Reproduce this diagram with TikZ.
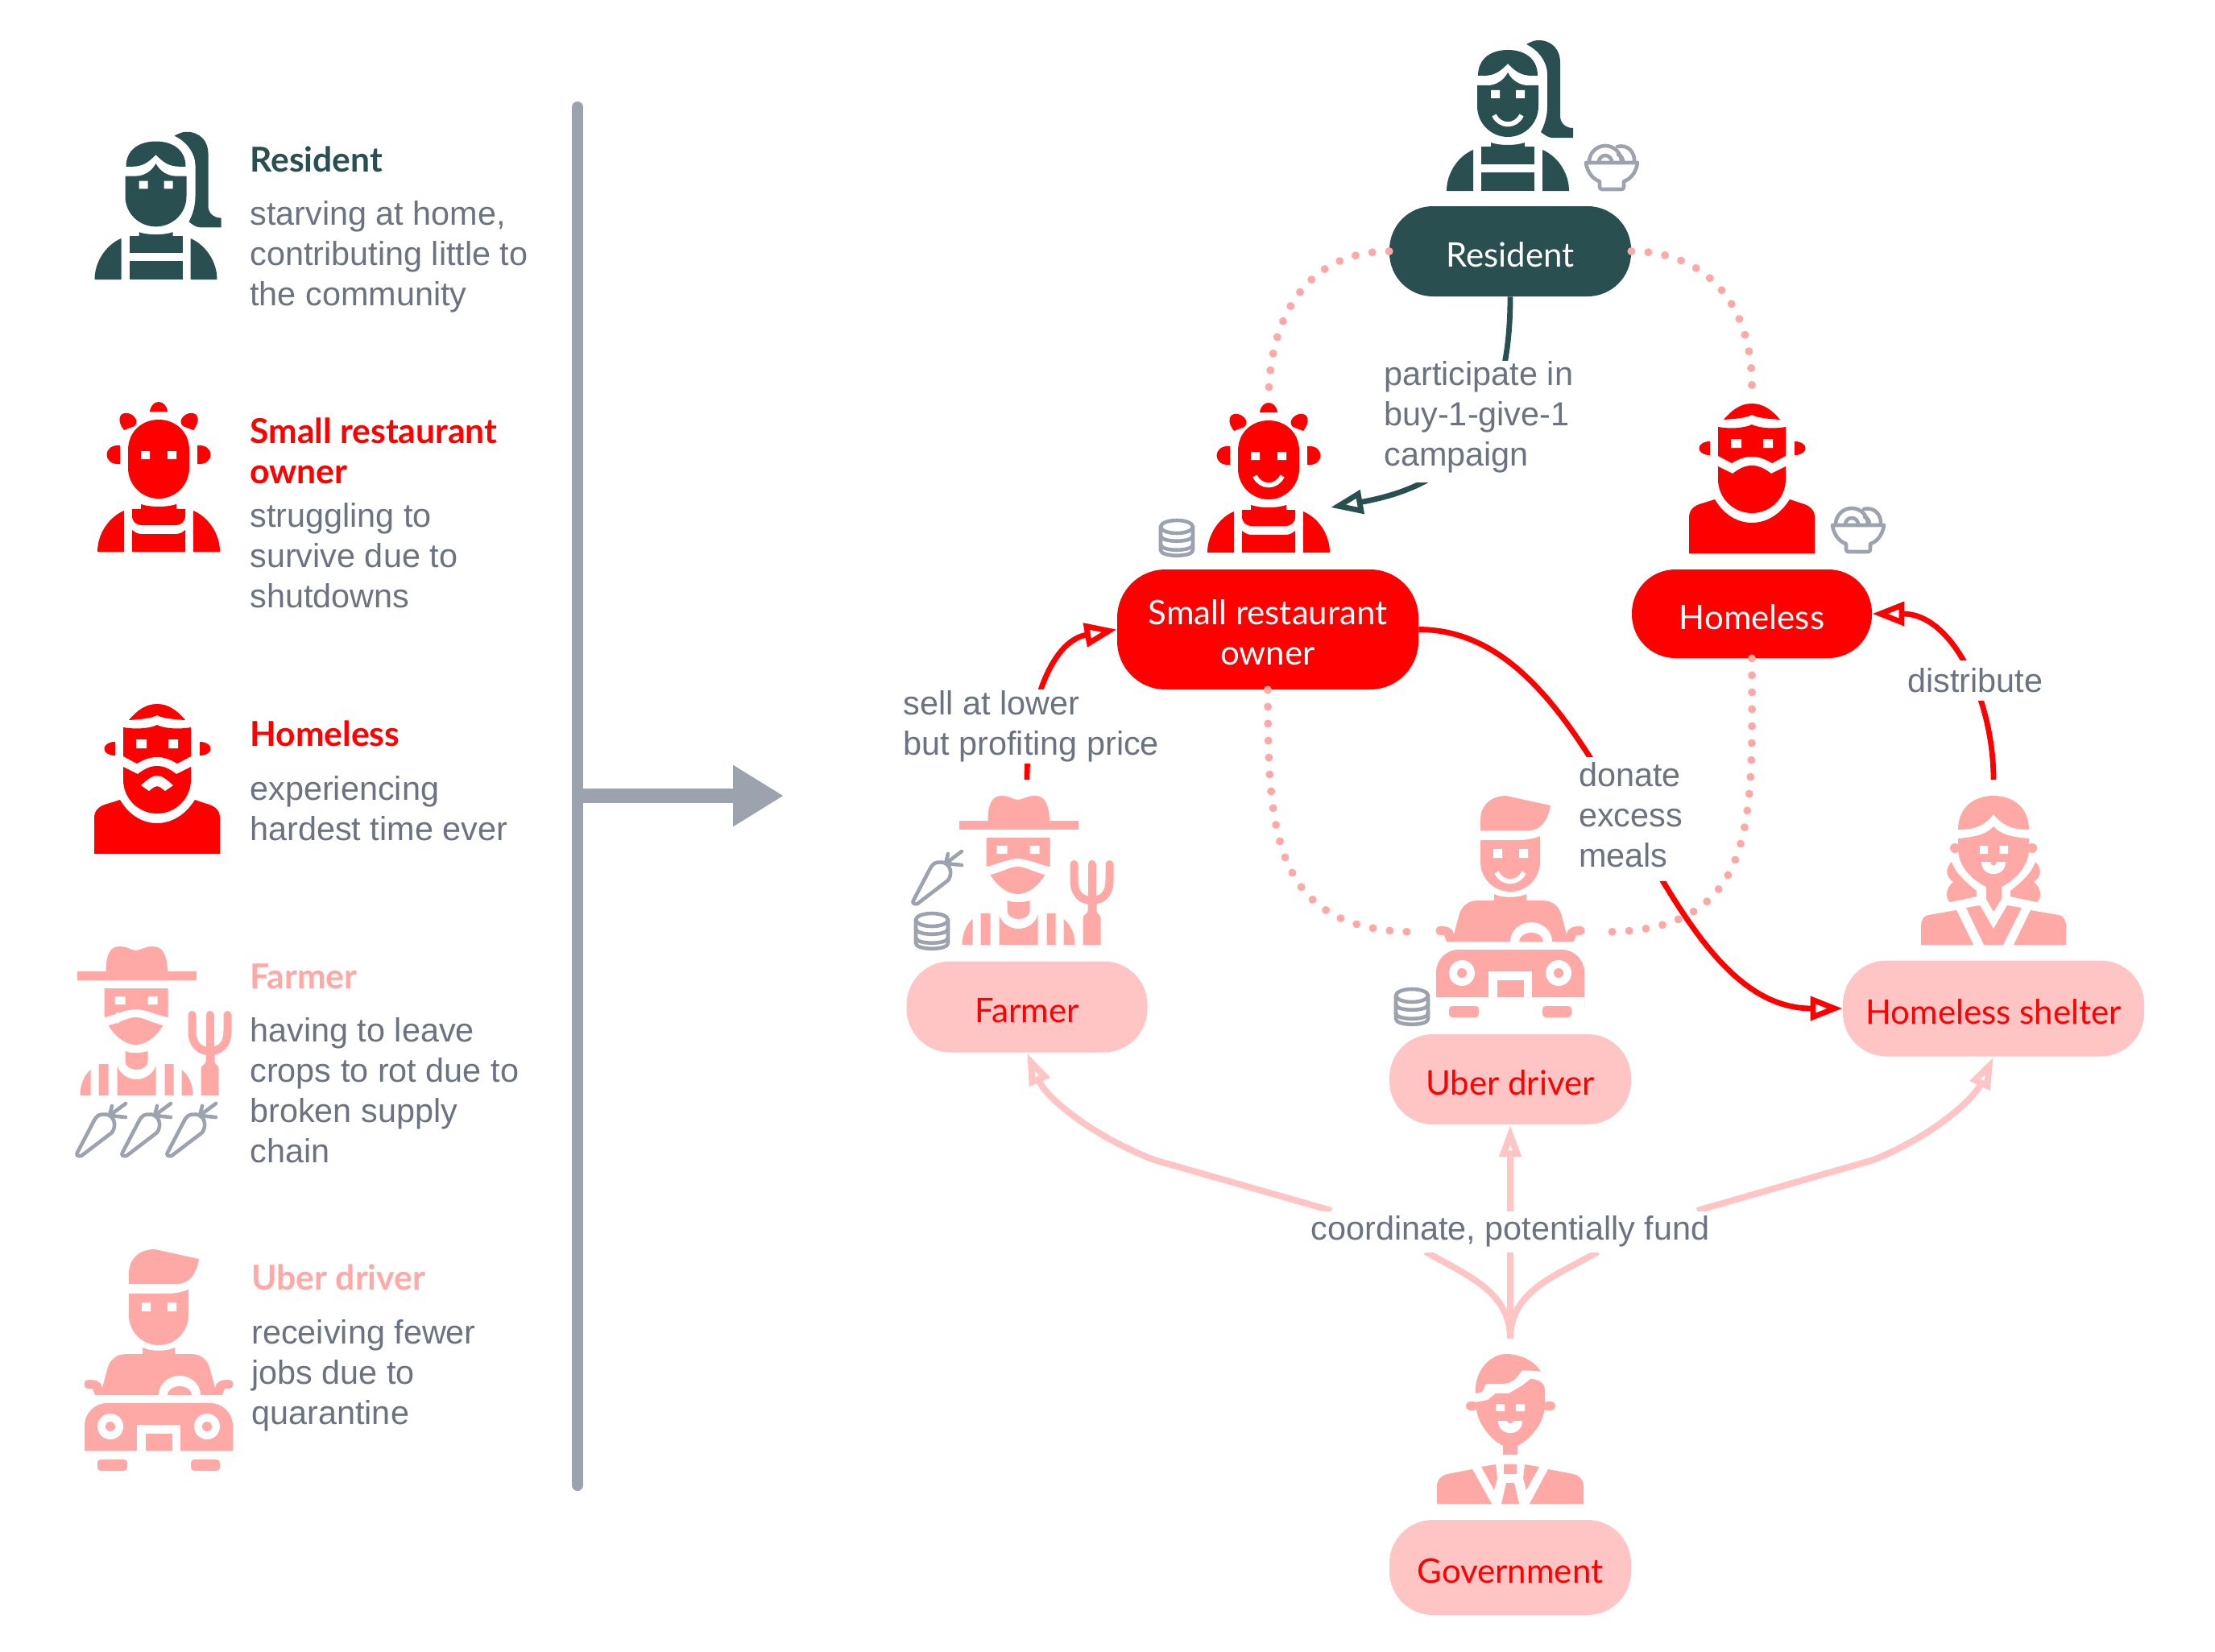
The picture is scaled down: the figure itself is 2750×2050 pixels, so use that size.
\documentclass[tikz,border=0pt]{standalone}
\usepackage{fontspec}
\setmainfont{Liberation Sans}
\newfontfamily\latofont{Lato}
\usetikzlibrary{arrows.meta, calc}

\definecolor{tealdark}{HTML}{2A4F50}
\definecolor{pinkicon}{HTML}{FFA9A7}
\definecolor{pinkbox}{HTML}{FFC5C5}
\definecolor{greytext}{HTML}{6B7280}
\definecolor{greyicon}{HTML}{9CA3AF}

\tikzset{
  pill/.style={rectangle, rounded corners=27pt, inner sep=0pt, align=center,
    text height=19pt, text depth=0pt,
    font=\latofont\fontsize{21}{25}\selectfont},
  headtext/.style={anchor=base west, inner sep=0pt, align=left,
    font=\latofont\bfseries\fontsize{21.3}{25}\selectfont},
  desctext/.style={anchor=base west, inner sep=0pt, align=left, text=greytext,
    font=\fontsize{20.7}{25}\selectfont},
  edgelabel/.style={fill=white, inner sep=0pt, align=left, text=greytext,
    font=\fontsize{20.7}{25}\selectfont},
  dotline/.style={pinkicon, line width=5pt, line cap=round, dash pattern=on 0.01pt off 10.5pt},
  flowline/.style={line width=3.4pt, -{Triangle[open, length=20pt, width=14.5pt]}},
  fundline/.style={pinkbox, line width=4pt, -{Triangle[open, length=20pt, width=13pt]}},
  thing/.style={greyicon, line width=2.3pt, line join=round, line cap=round},
  % people
  pics/residentfig/.style={code={
    \fill[#1] (-37,143) .. controls (-37,165) and (-20,175) .. (0,175) .. controls (20,175) and (37,165) .. (37,143)
      -- (30,143) .. controls (15,143) and (8,150) .. (0,158) .. controls (-8,150) and (-15,143) .. (-30,143) -- cycle;
    \fill[#1] (-38,131) -- (-25,131) .. controls (-15,131) and (-5,137) .. (0,147) .. controls (5,137) and (15,131) .. (25,131)
      -- (38,131) -- (38,105) arc[start angle=0, end angle=-180, radius=38] -- cycle;
    \fill[#1] (23,182) .. controls (30,186) and (34,187) .. (38,187) .. controls (55,187) and (65,175) .. (65,160)
      -- (65,93) .. controls (65,84) and (72,78) .. (81,78) -- (81,66) -- (55,66) .. controls (50,66) and (45,70) .. (41,73)
      .. controls (47,85) and (49,95) .. (49,105) -- (49,145) .. controls (49,160) and (38,175) .. (23,182) -- cycle;
    \fill[white] (-21,115) rectangle (-10,125) (10,115) rectangle (21,125);
    \fill[#1] (-33,33.5) rectangle (33,55);
    \fill[#1] (-21,54) -- (-21,60) .. controls (-10,56) and (10,56) .. (21,60) -- (21,54) -- cycle;
    \fill[#1] (-33,0) rectangle (33,23);
    \pic {shoulders=#1};
  }},
  pics/shoulders/.style={code={
    \fill[#1] (-76,0) .. controls (-76,22) and (-62,43) .. (-43,51) -- (-43,0) -- cycle;
    \fill[#1] (76,0) .. controls (76,22) and (62,43) .. (43,51) -- (43,0) -- cycle;
  }},
  pics/ownerfig/.style={code={
    \fill[#1] (-38,126) .. controls (-38,150) and (-20,164) .. (0,164) .. controls (20,164) and (38,150) .. (38,126)
      -- (38,104) arc[start angle=0, end angle=-180, radius=38] -- cycle;
    \fill[white] (-22,115) rectangle (-11,125) (11,115) rectangle (22,125);
    \fill[#1] (-11,174) .. controls (-9,190) and (9,190) .. (11,174) -- cycle;
    \fill[#1] (-30,156) .. controls (-24,162) and (-30,170) .. (-38,172) .. controls (-50,174) and (-52,162) .. (-43,151) -- cycle;
    \fill[#1] (30,156) .. controls (24,162) and (30,170) .. (38,172) .. controls (50,174) and (52,162) .. (43,151) -- cycle;
    \fill[#1] (-48,132) .. controls (-70,134) and (-70,107) .. (-48,109) -- cycle;
    \fill[#1] (48,132) .. controls (70,134) and (70,107) .. (48,109) -- cycle;
    \fill[#1] (-33,53) -- (-33,45) .. controls (-33,37) and (-28,33) .. (-20,33) -- (20,33) .. controls (28,33) and (33,37) .. (33,45)
      -- (33,53) -- (22,53) -- (22,59) .. controls (10,55) and (-10,55) .. (-22,59) -- (-22,53) -- cycle;
    \fill[#1] (-33,0) -- (33,0) -- (33,27) .. controls (28,23) and (25,22) .. (20,22) -- (-20,22) .. controls (-25,22) and (-28,23) .. (-33,27) -- cycle;
    \pic {shoulders=#1};
  }},
  pics/homelessfig/.style={code={
    \fill[#1] (-35,166) .. controls (-25,178) and (-14,186) .. (0,186) .. controls (14,186) and (25,178) .. (35,166)
      .. controls (20,167) and (8,168) .. (0,172) .. controls (-8,168) and (-20,167) .. (-35,166) -- cycle;
    \fill[#1] (-42,157) .. controls (-25,154) and (-8,156) .. (0,160) .. controls (8,156) and (25,154) .. (42,157) -- (42,121) -- (25,112)
      .. controls (15,118) and (8,120) .. (0,120) .. controls (-8,120) and (-15,118) .. (-25,112) -- (-42,121) -- cycle;
    \fill[white] (-26,131) rectangle (-13,142) (14,131) rectangle (26,142);
    \fill[#1] (-42,108) -- (-24,99) .. controls (-15,106) and (-8,109) .. (0,109) .. controls (8,109) and (15,106) .. (24,99) -- (42,108)
      -- (42,92) arc[start angle=0, end angle=-180, radius=42] -- cycle;
    \fill[#1] (-52,139) .. controls (-70,139) and (-70,122) .. (-52,122) -- cycle;
    \fill[#1] (53,139) .. controls (71,139) and (71,122) .. (53,122) -- cycle;
    \fill[#1] (-78,0) -- (-78,45) .. controls (-78,55) and (-70,60) .. (-62,62) -- (-46,67) .. controls (-35,48) and (-18,38) .. (0,38)
      .. controls (18,38) and (35,48) .. (47,67) -- (62,62) .. controls (70,60) and (78,55) .. (78,45) -- (78,0) -- cycle;
  }},
  pics/farmerfig/.style={code={
    \fill[#1] (-73,143) rectangle (75,154);
    \fill[#1] (-37,153) .. controls (-37,175) and (-32,185) .. (-20,185) .. controls (-10,185) and (-5,180) .. (0,180)
      .. controls (5,180) and (12,185) .. (20,185) .. controls (35,185) and (38,175) .. (40,153) -- cycle;
    \fill[#1] (-39,133) -- (40,133) -- (40,97) .. controls (25,100) and (12,107) .. (0,107) .. controls (-12,107) and (-25,100) .. (-39,97) -- cycle;
    \fill[white] (-26,113) rectangle (-13,123) (15,113) rectangle (27,123);
    \fill[#1] (-34,87) .. controls (-20,90) and (-10,97) .. (0,97) .. controls (10,97) and (20,90) .. (34,87) .. controls (25,72) and (12,63) .. (0,63) .. controls (-12,63) and (-25,72) .. (-34,87) -- cycle;
    \fill[#1] (-13,55) .. controls (-5,52) and (5,52) .. (15,55) -- (15,42) .. controls (15,36) and (8,32) .. (1,32) .. controls (-6,32) and (-13,36) .. (-13,42) -- cycle;
    \fill[#1] (-23,37) .. controls (-20,27) and (-10,20) .. (1,20) .. controls (12,20) and (22,27) .. (25,37) -- (25,0) -- (-23,0) -- cycle;
    \fill[#1] (-46,0) rectangle (-34,39) (36,0) rectangle (47,39);
    \fill[#1] (-69,0) .. controls (-69,15) and (-63,26) .. (-56,32) -- (-56,0) -- cycle;
    \fill[#1] (71,0) .. controls (71,15) and (65,26) .. (57,32) -- (57,0) -- cycle;
    \fill[#1] (81,0) -- (81,33) .. controls (81,38) and (87,38) .. (87,42) -- (87,56) -- (98,56) -- (98,42) .. controls (98,38) and (103,38) .. (103,33) -- (103,0) -- cycle;
    \draw[#1, line width=5pt, line cap=round] (70,100) -- (70,80) .. controls (70,62) and (80,55) .. (92,55) .. controls (104,55) and (114,62) .. (114,80) -- (114,100);
    \draw[#1, line width=5pt, line cap=round] (92,100) -- (92,55);
  }},
  pics/driverfig/.style={code={
    \fill[#1] (-37,232) -- (-37,245) .. controls (-37,265) and (-22,275) .. (-5,275) -- (50,263) .. controls (47,245) and (38,232) .. (23,232) -- cycle;
    \fill[#1] (-37,220) -- (10,220) .. controls (20,220) and (30,222) .. (37,225) -- (37,193) arc[start angle=0, end angle=-180, radius=37] -- cycle;
    \fill[white] (-21,198) rectangle (-10,209) (11,198) rectangle (22,209);
    \fill[#1] (-20,153) .. controls (-10,148) and (10,148) .. (20,153) -- (20,145) -- (40,145) .. controls (55,145) and (62,135) .. (64,125)
      -- (70,103) .. controls (72,112) and (78,113) .. (88,113) .. controls (94,113) and (94,102) .. (88,102) -- (82,102) -- (79,94)
      -- (-79,94) -- (-82,102) -- (-88,102) .. controls (-94,102) and (-94,113) .. (-88,113) .. controls (-78,113) and (-72,112) .. (-70,103)
      -- (-64,125) .. controls (-62,135) and (-55,145) .. (-40,145) -- (-20,145) -- cycle;
    \fill[white] (0,94) arc[start angle=180, end angle=0, x radius=26, y radius=24] -- cycle;
    \fill[#1] (11,94) arc[start angle=180, end angle=0, x radius=15, y radius=11] -- cycle;
    \fill[#1, rounded corners=14pt] (-92,40) -- (-92,84) -- (92,84) -- (92,40) [sharp corners] -- (92,25) -- (-92,25) -- (-92,40);
    \fill[white] (-60,55) ellipse (16 and 16) (60,55) ellipse (16 and 16);
    \fill[#1] (-60,55) circle (6) (60,55) circle (6);
    \fill[white] (-27,25) rectangle (27,57);
    \fill[#1] (-16,25) rectangle (17,46);
    \fill[#1, rounded corners=2pt] (-76,0) rectangle (-39,14) (40,0) rectangle (76,14);
  }},
  pics/shelterfig/.style={code={
    \fill[#1] (-44,143) .. controls (-44,170) and (-25,185) .. (0,185) .. controls (25,185) and (44,170) .. (44,143)
      .. controls (20,143) and (10,150) .. (0,162) .. controls (-10,150) and (-20,143) .. (-44,143) -- cycle;
    \fill[#1] (-44,132) .. controls (-20,134) and (-8,138) .. (0,147) .. controls (8,138) and (20,134) .. (44,132) -- (44,118)
      .. controls (43,95) and (25,80) .. (10,72) -- (10,57) -- (0,41) -- (-9,57) -- (-9,72) .. controls (-25,80) and (-43,95) .. (-44,118) -- cycle;
    \fill[#1] (-48,120) circle (6) (48,120) circle (6);
    \fill[white] (-17,113) rectangle (-7,123) (7.5,113) rectangle (18,123);
    \fill[white] (-15,103) -- (15,103) .. controls (15,93) and (8,88) .. (0,88) .. controls (-8,88) and (-15,93) .. (-15,103) -- cycle;
    \fill[#1] (-4,103) .. controls (-3,97) and (3,97) .. (4,103) -- cycle;
    \fill[#1] (-52,103) .. controls (-60,95) and (-60,85) .. (-50,78) .. controls (-60,70) and (-60,58) .. (-54,53) -- (-21,60) -- (-21,67) .. controls (-35,78) and (-48,90) .. (-52,103) -- cycle;
    \fill[#1] (52,103) .. controls (60,95) and (60,85) .. (50,78) .. controls (60,70) and (60,58) .. (54,53) -- (21,60) -- (21,67) .. controls (35,78) and (48,90) .. (52,103) -- cycle;
    \fill[#1] (-90,0) -- (-90,23) .. controls (-90,32) and (-86,36) .. (-81,37) -- (-46,43) -- (-25,0) -- cycle;
    \fill[#1] (90,0) -- (90,23) .. controls (90,32) and (86,36) .. (81,37) -- (46,43) -- (25,0) -- cycle;
    \fill[#1] (-34,46) -- (-17,49) -- (0,20) -- (17,49) -- (35,46) -- (12,0) -- (-12,0) -- cycle;
  }},
  pics/officialfig/.style={code={
    \fill[#1] (-43,137) .. controls (-45,165) and (-25,186) .. (-5,186) .. controls (12,186) and (30,178) .. (38,164)
      .. controls (30,166) and (20,165) .. (15,166) .. controls (10,160) and (5,149) .. (-10,149) -- (-30,149) -- (-35,139) -- cycle;
    \fill[#1] (-43,126) -- (-28,129) -- (-18,137) -- (-2,137) -- (15,147) -- (25,155) .. controls (35,155) and (43,150) .. (43,141)
      -- (43,121) .. controls (42,100) and (25,80) .. (9,72) -- (9,61) -- (-9,61) -- (-9,72) .. controls (-25,80) and (-40,100) .. (-42,117) -- cycle;
    \fill[#1, rounded corners=2.5pt] (-55,116) rectangle (-40,127) (40,116) rectangle (56,127);
    \fill[white] (-18,115) rectangle (-7,124) (7,115) rectangle (18,124);
    \fill[white] (-15,103) -- (15,103) .. controls (15,93) and (8,88) .. (0,88) .. controls (-8,88) and (-15,93) .. (-15,103) -- cycle;
    \fill[#1] (-4,103) .. controls (-3,99) and (3,99) .. (4,103) -- cycle;
    \fill[#1] (-91,0) -- (-91,21) .. controls (-91,30) and (-86,35) .. (-78,37) -- (-47,43) -- (-23,0) -- cycle;
    \fill[#1] (91,0) -- (91,21) .. controls (91,30) and (86,35) .. (78,37) -- (47,43) -- (24,0) -- cycle;
    \fill[#1] (-36,46) -- (-18,49) -- (-16,32) -- (-20,17) -- cycle;
    \fill[#1] (36,46) -- (18,49) -- (16,32) -- (20,17) -- cycle;
    \fill[#1] (-8,37) rectangle (8,49);
    \fill[#1] (-5,26) -- (5,26) -- (11,0) -- (-11,0) -- cycle;
  }},
  % small marks on the faces
  pics/smile/.style={code={
    \draw[white, line width=3pt] (-17,6) .. controls (-10,-9) and (10,-9) .. (17,6);
  }},
  pics/frown/.style={code={
    \fill[white] (-20,85) .. controls (-10,94) and (-5,97) .. (0,97) .. controls (5,97) and (10,94) .. (20,85) -- (10,78) .. controls (5,82) and (3,84) .. (0,84) .. controls (-3,84) and (-5,82) .. (-10,78) -- cycle;
  }},
  pics/tear/.style={code={
    \fill[white] (0,0) circle (3.5);
    \fill[white] (-1.5,0) rectangle (1.5,10);
  }},
  % things
  pics/bowlfig/.style={code={
    \draw[thing] (-32,35) -- (32,35) .. controls (30,20) and (20,13) .. (15,12) -- (15,5) .. controls (15,3) and (14,2) .. (12,2) -- (-12,2)
      .. controls (-14,2) and (-15,3) .. (-15,5) -- (-15,12) .. controls (-20,13) and (-30,20) .. (-32,35) -- cycle;
    \draw[thing] (-28,36) arc[start angle=180, end angle=0, radius=20];
    \draw[thing] (-16,36) arc[start angle=180, end angle=0, radius=8];
    \draw[thing] (7,55) .. controls (20,58) and (29,48) .. (28,36);
    \draw[thing] (8,45) .. controls (12,44) and (14,40) .. (14,36);
  }},
  pics/coinsfig/.style={code={
    \draw[thing] (0,37) ellipse (20 and 8);
    \draw[thing] (-20,37) -- (-20,8) .. controls (-20,-1) and (20,-1) .. (20,8) -- (20,37);
    \draw[thing] (-20,26) .. controls (-20,17) and (20,17) .. (20,26);
    \draw[thing] (-20,15) .. controls (-20,6) and (20,6) .. (20,15);
  }},
  pics/carrotfig/.style={code={
    \draw[thing] (0,2) -- (22,44) .. controls (25,50) and (35,51) .. (40,48) .. controls (47,44) and (48,34) .. (43,27)
      -- (5,-2) .. controls (1,-3) and (-2,-1) .. (0,2) -- cycle;
    \draw[thing] (40,48) -- (43,60) (40,48) -- (60,63) (40,48) -- (60,46);
  }},
}

\begin{document}
\begin{tikzpicture}[x=0.5pt, y=0.5pt]
    \useasboundingbox (0,0) rectangle (2750,-2050);

    % left column
    \pic [yscale=.98] at (193.5,-347) {residentfig=tealdark};
    \pic at (197,-685) {ownerfig=red};
    \pic at (195,-1060) {homelessfig=red};
    \pic at (195,-1060) {frown};
    \pic at (168.5,-1360) {farmerfig=pinkicon};
    \pic at (145.5,-1267) {tear};
    \foreach \cx in {96,152,208} {
        \pic at (\cx,-1433) {carrotfig};
    }
    \pic at (197,-1826) {driverfig=pinkicon};

    \node (resident head) [headtext, text=tealdark] at (310,-213) {Resident};
    \node (resident desc) [desctext] at (310,-379) {starving at home,\\contributing little to\\the community};
    \node (owner head) [headtext, text=red] at (310,-600) {Small restaurant\\owner};
    \node (owner desc) [desctext] at (310,-754) {struggling to\\survive due to\\shutdowns};
    \node (homeless head) [headtext, text=red] at (310,-926) {Homeless};
    \node (homeless desc) [desctext] at (310,-1043) {experiencing\\hardest time ever};
    \node (farmer head) [headtext, text=pinkicon] at (310,-1227) {Farmer};
    \node (farmer desc) [desctext] at (310,-1443) {having to leave\\crops to rot due to\\broken supply\\chain};
    \node (driver head) [headtext, text=pinkicon] at (312,-1601) {Uber driver};
    \node (driver desc) [desctext] at (312,-1768) {receiving fewer\\jobs due to\\quarantine};

    % divider and big arrow
    \coordinate (bar top) at (717,-133);
    \coordinate (bar bottom) at (717,-1844);
    \coordinate (big start) at (724,-988);
    \coordinate (big end) at (973,-988);
    \draw [greyicon, line width=7pt, line cap=round] (bar top) -- (bar bottom);
    \draw [greyicon, line width=9pt, -{Triangle[length=31.5pt, width=36pt]}] (big start) -- (big end);

    % right part, boxes
    \node (resident) [pill, fill=tealdark, text=white, minimum width=150pt, minimum height=56pt] at (1875,-312) {Resident};
    \node (owner) [pill, rounded corners=30pt, fill=red, text=white, text height=44pt, text depth=0pt, minimum width=187pt, minimum height=74.5pt] at (1574,-781.5) {Small restaurant\\owner};
    \node (homeless) [pill, fill=red, text=white, minimum width=149pt, minimum height=55pt] at (2175,-762) {Homeless};
    \node (farmer) [pill, fill=pinkbox, text=red, minimum width=149.5pt, minimum height=56.5pt] at (1275,-1250) {Farmer};
    \node (driver) [pill, fill=pinkbox, text=red, minimum width=150pt, minimum height=56pt] at (1875,-1340) {Uber driver};
    \node (shelter) [pill, fill=pinkbox, text=red, minimum width=187pt, minimum height=59.5pt] at (2475,-1252) {Homeless shelter};
    \node (government) [pill, fill=pinkbox, text=red, minimum width=150pt, minimum height=59pt] at (1875,-1946) {Government};

    % free ends of the connectors, at the edges of the figures
    \coordinate (owner top) at (1575,-497);
    \coordinate (homeless top) at (2175,-478);
    \coordinate (driver left) at (1760,-1157);
    \coordinate (driver right) at (1991,-1157);
    \coordinate (owner fig) at (1652,-630);
    \coordinate (farmer top) at (1275,-968);
    \coordinate (shelter top) at (2475,-968);
    \coordinate (government top) at (1875,-1662);

    \path [dotline]
    (resident.west) edge[out=180, in=90, looseness=1.1] (owner top)
    (resident.east) edge[out=0, in=90, looseness=1.1] (homeless top)
    (owner.south) edge[out=270, in=180, looseness=1.3] (driver left)
    (homeless.south) edge[out=270, in=0, looseness=1.3] (driver right);

    % right part, figures
    \pic at (1872,-237) {residentfig=tealdark};
    \pic at (1872,-149) {smile};
    \pic at (2001,-237) {bowlfig};
    \pic at (1575,-686) {ownerfig=red};
    \pic at (1575,-597) {smile};
    \pic at (1461,-691) {coinsfig};
    \pic at (2175,-687) {homelessfig=red};
    \pic at (2307,-687) {bowlfig};
    \pic at (1263.5,-1173) {farmerfig=pinkicon};
    \pic at (1134,-1120) {carrotfig};
    \pic at (1157,-1179) {coinsfig};
    \pic at (1875,-1263) {driverfig=pinkicon};
    \pic at (1875,-1089) {smile};
    \pic at (1753,-1273) {coinsfig};
    \pic at (2475,-1173) {shelterfig=pinkicon};
    \pic at (1875,-1867) {officialfig=pinkicon};

    % connectors
    \path [flowline, tealdark]
    (resident.south) edge[out=-90, in=10, looseness=1.2] node[edgelabel, pos=.42, xshift=-1.5pt, yshift=2pt, text depth=10.4pt, minimum height=75pt] {participate in\\buy-1-give-1\\campaign} (owner fig);
    \path [flowline, red]
    (farmer top) edge[out=90, in=190] node[edgelabel, pos=.3, xshift=-1.5pt, yshift=-4.5pt, minimum height=46pt] {sell at lower\\but profiting price} (owner.west)
    (owner.east) edge[out=0, in=180, looseness=.86] node[edgelabel, pos=.5, text depth=5pt, minimum height=77pt] {donate\\excess\\meals} (shelter.west)
    (shelter top) edge[out=90, in=0] node[edgelabel, pos=.45, xshift=4pt, yshift=-2.5pt, minimum height=25pt] {distribute} (homeless.east);

    \coordinate (fund left) at (1653,-1503);
    \coordinate (fund right) at (2107,-1503);
    \draw [fundline] (fund left) -- (1433,-1440) .. controls (1360,-1412) and (1300,-1365) .. (farmer.south);
    \draw [fundline] (fund right) -- (2326,-1440) .. controls (2400,-1410) and (2450,-1365) .. (shelter.south);
    \draw [fundline] (government top) -- (driver.south);
    \draw [pinkbox, line width=4pt] (government top) to[out=90, in=-30] (1770,-1554);
    \draw [pinkbox, line width=4pt] (government top) to[out=90, in=210] (1984,-1554);
    \node (fund) [edgelabel, minimum height=25.5pt, align=center, minimum width=250pt] at (1875,-1529) {coordinate, potentially fund};
\end{tikzpicture}
\end{document}
